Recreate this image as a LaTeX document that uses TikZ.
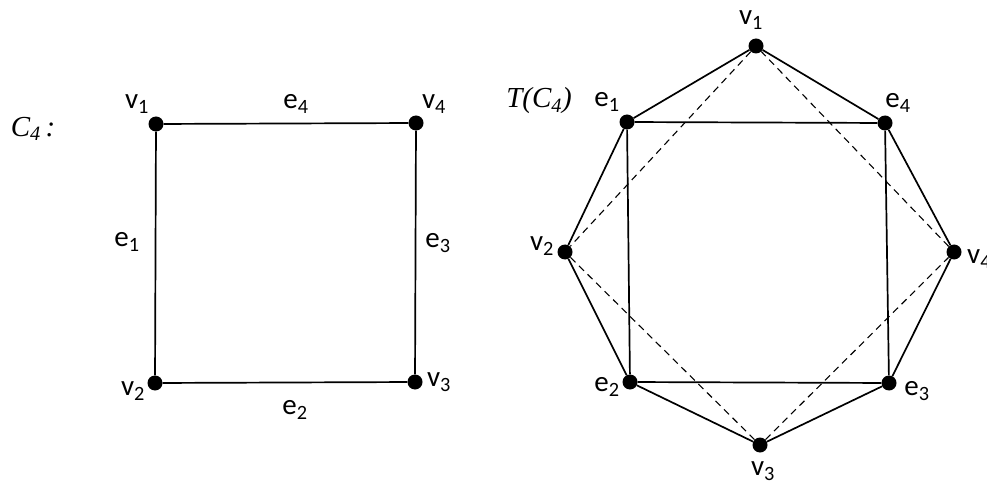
\documentclass[tikz,border=0pt]{standalone}
\usepackage{fontspec}
\setmainfont{Carlito}
\newfontfamily\mfont{Liberation Serif}
\begin{document}
\begin{tikzpicture}[x=1pt,y=-1pt,
  dot/.style={circle,fill=black,inner sep=0pt,minimum size=15pt},
  lbl/.style={font=\fontsize{29}{32}\selectfont,inner sep=0pt},
  mlbl/.style={font=\mfont\itshape\fontsize{29}{32}\selectfont,inner sep=0pt},
  edge/.style={line width=1.7pt},
  dedge/.style={line width=1.1pt,dash pattern=on 7pt off 5pt}]
\useasboundingbox (0,0) rectangle (987,486);
\clip (0,0) rectangle (987,486);
% left: C4
\node[mlbl] (c4) at (33,129) {C\textsubscript{4}\,:};
\node[dot] (a1) at (156,124) {};
\node[dot] (a4) at (416,123) {};
\node[dot] (a2) at (155,383) {};
\node[dot] (a3) at (415,382) {};
\draw[edge] (a1) -- (a4) -- (a3) -- (a2) -- (a1);
\node[lbl] (la1) at (137,104) {v\textsubscript{1}};
\node[lbl] (la4) at (434,104) {v\textsubscript{4}};
\node[lbl] (la2) at (133,391) {v\textsubscript{2}};
\node[lbl] (la3) at (439,382) {v\textsubscript{3}};
\node[lbl] (le4) at (296,104) {e\textsubscript{4}};
\node[lbl] (le1) at (127,242) {e\textsubscript{1}};
\node[lbl] (le3) at (438,243) {e\textsubscript{3}};
\node[lbl] (le2) at (295,410) {e\textsubscript{2}};
% right: T(C4)
\node[mlbl] (tc4) at (539,101) {T(C\textsubscript{4})};
\node[dot] (v1) at (756,46) {};
\node[dot] (e1) at (627,122) {};
\node[dot] (e4) at (885,123) {};
\node[dot] (v2) at (565,252) {};
\node[dot] (v4) at (954,252) {};
\node[dot] (e2) at (630,382) {};
\node[dot] (e3) at (889,383) {};
\node[dot] (v3) at (760,445) {};
\draw[edge] (e1) -- (e4) -- (e3) -- (e2) -- (e1);
\draw[edge] (v1) -- (e4) -- (v4) -- (e3) -- (v3) -- (e2) -- (v2) -- (e1) -- (v1);
\draw[dedge] (v1) -- (v2) -- (v3) -- (v4) -- (v1);
\node[lbl] (lv1) at (751,20) {v\textsubscript{1}};
\node[lbl] (le1r) at (607,102) {e\textsubscript{1}};
\node[lbl] (le4r) at (898,103) {e\textsubscript{4}};
\node[lbl] (lv2) at (542,246) {v\textsubscript{2}};
\node[lbl,anchor=west] (lv4) at (967,259) {v\textsubscript{4}};
\node[lbl] (le2r) at (607,387) {e\textsubscript{2}};
\node[lbl] (le3r) at (917,391) {e\textsubscript{3}};
\node[lbl] (lv3) at (763,471) {v\textsubscript{3}};
\end{tikzpicture}
\end{document}
